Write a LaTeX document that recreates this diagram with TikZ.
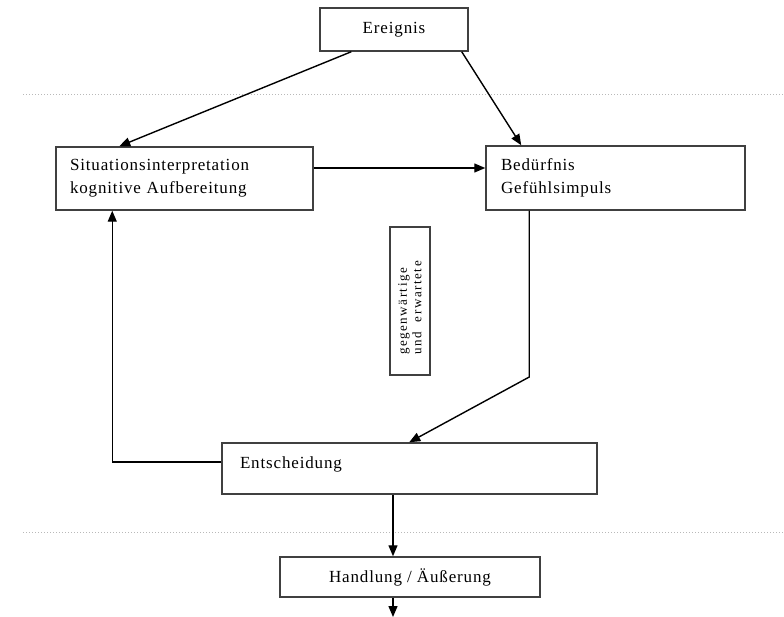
\documentclass[tikz,border=0pt]{standalone}
\usepackage{fontspec}
\setmainfont{Liberation Serif}[LetterSpace=5]
\usetikzlibrary{arrows.meta}
\tikzstyle{block} = [rectangle, draw=black!75, line width=1.5pt, fill=white,
inner xsep=14pt, font=\fontsize{17}{23}\selectfont]
\tikzstyle{arrow} = [line width=1.4pt, -{Triangle[length=11pt,width=9pt]}]
\tikzstyle{guide} = [dotted, line width=1pt, color=gray!55]

\begin{document}
\begin{tikzpicture}[x=1pt, y=-1pt]
\useasboundingbox (0,0) rectangle (784,617);
\draw[guide] (23,95) -- (784,95);
\draw[guide] (23,532) -- (784,532);
\node[block, minimum width=148pt, minimum height=43pt] (ereignis) at (394,29.5) {Ereignis};
\node[block, text width=229pt, minimum height=63pt, align=left] (situation) at (184.5,178.5)
{Situationsinterpretation\\kognitive Aufbereitung};
\node[block, inner xsep=15pt, text width=229pt, minimum height=64pt, align=left] (beduerfnis)
at (615.5,178) {Bedürfnis\\Gefühlsimpuls};
\node[block, rotate=90, inner xsep=20pt, text width=108pt, minimum height=40pt, align=left,
font=\fontsize{13}{14.5}\selectfont\addfontfeatures{LetterSpace=12}] (zeit) at (410,301)
{gegenwärtige\\und\hspace{6pt} erwartete};
\node[block, inner xsep=18pt, inner ysep=7pt, text width=339pt, text height=18pt,
text depth=19pt, align=left] (entscheidung) at (409.5,468.5) {Entscheidung};
\node[block, minimum width=260pt, minimum height=40pt] (handlung) at (410,577)
{Handlung / Äußerung};
\coordinate (knick) at (530,377);
\coordinate (mitte) at (393,0);
\coordinate (ende) at (393,617);
\coordinate (s1) at ([yshift=10.5pt]situation.east);
\coordinate (b1) at ([xshift=44pt]beduerfnis.south west);
\coordinate (e1) at ([yshift=6.5pt]entscheidung.west);
\draw[arrow] ([xshift=32pt]ereignis.south west) -- ([xshift=64pt]situation.north west);
\draw[arrow] ([xshift=-7pt]ereignis.south east) -- ([xshift=36pt]beduerfnis.north west);
\draw[arrow] (s1) -- (s1 -| beduerfnis.west);
\draw[arrow] (b1) -- (b1 |- knick) -- ([xshift=188pt]entscheidung.north west);
\draw[arrow] (e1) -| ([xshift=57pt]situation.south west);
\draw[arrow] (entscheidung.south -| mitte) -- (handlung.north -| mitte);
\draw[arrow] (handlung.south -| mitte) -- (ende);
\end{tikzpicture}
\end{document}
